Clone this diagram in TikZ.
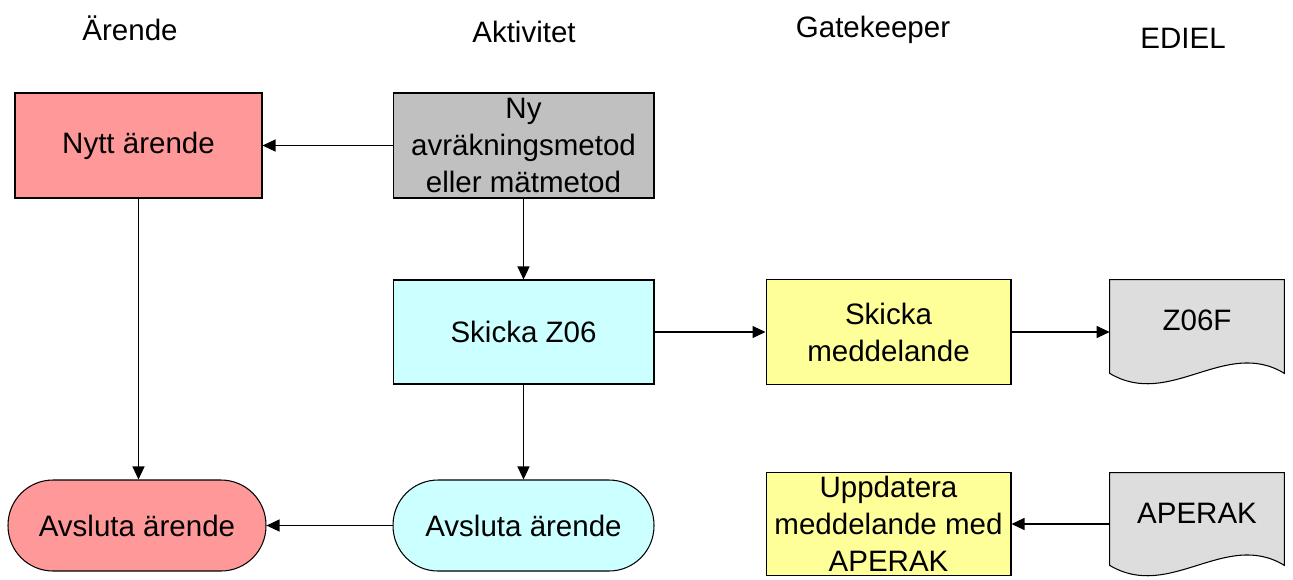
\documentclass[tikz,border=0pt]{standalone}
\usepackage{fontspec}
\setmainfont{Liberation Sans}
\usepackage{tikz}
\usetikzlibrary{arrows.meta,positioning}
\definecolor{Ink}{HTML}{000000}
\definecolor{CaseRed}{HTML}{FF9999}
\definecolor{ActGray}{HTML}{C0C0C0}
\definecolor{ActCyan}{HTML}{CCFFFF}
\definecolor{GateYellow}{HTML}{FFFF99}
\definecolor{DocGray}{HTML}{DDDDDD}
\tikzset{
  box/.style={draw=Ink,line width=0.6pt,align=center,text=Ink,inner sep=2pt,
    font=\fontsize{16.8}{21}\selectfont},
  boxred/.style={box,fill=CaseRed},
  boxgray/.style={box,fill=ActGray},
  boxcyan/.style={box,fill=ActCyan},
  boxyellow/.style={box,fill=GateYellow},
  terminal/.style={box,rounded corners=0.9cm},
  docnode/.style={align=center,text=Ink,inner sep=0pt,minimum width=3.48cm,
    font=\fontsize{16.8}{21}\selectfont},
  docshape/.style={draw=Ink,line width=0.6pt,fill=DocGray},
  lane/.style={text=Ink,font=\fontsize{16.8}{21}\selectfont},
  arrow/.style={-{Triangle[length=0.26cm,width=0.24cm]},line width=0.6pt,draw=Ink}
}
\begin{document}
\begin{tikzpicture}[x=0.02cm,y=-0.02cm]
\useasboundingbox (0,0) rectangle (1293,579);
% lane headings
\node[lane] (hcase) at (130,28) {Ärende};
\node[lane] (hact) at (524,32) {Aktivitet};
\node[lane] (hgate) at (873,30) {Gatekeeper};
\node[lane] (hediel) at (1183,38) {EDIEL};
% boxes
\node[boxred,minimum width=4.94cm,minimum height=2.1cm] (nytt) at (138.5,145.5) {Nytt ärende};
\node[boxgray,minimum width=5.22cm,minimum height=2.1cm] (ny) at (523.5,145.5) {Ny\\avräkningsmetod\\eller mätmetod};
\node[boxcyan,minimum width=5.22cm,minimum height=2.08cm] (z06) at (523.5,332) {Skicka Z06};
\node[boxyellow,minimum width=4.9cm,minimum height=2.1cm] (send) at (888.5,332) {Skicka\\meddelande};
\node[boxyellow,minimum width=4.9cm,minimum height=2.04cm] (uppd) at (888.5,524) {Uppdatera\\meddelande med\\APERAK};
\node[terminal,fill=CaseRed,minimum width=5.16cm,minimum height=1.82cm] (endcase) at (137,525.5) {Avsluta ärende};
\node[terminal,fill=ActCyan,minimum width=5.22cm,minimum height=1.82cm] (endact) at (523.5,525.5) {Avsluta ärende};
% documents
\node[docnode,minimum height=1.86cm] (z06f) at (1197,326.5) {};
\draw[docshape] (z06f.south west) -- (z06f.north west) -- (z06f.north east) -- (z06f.south east)
  .. controls +(-59,-36) and +(60,36) .. (z06f.south west) -- cycle;
\node[lane] at (1197,320) {Z06F};
\node[docnode,minimum height=1.84cm] (aperak) at (1197,519) {};
\draw[docshape] (aperak.south west) -- (aperak.north west) -- (aperak.north east) -- (aperak.south east)
  .. controls +(-59,-36) and +(60,36) .. (aperak.south west) -- cycle;
\node[lane] at (1197,513) {APERAK};
% connectors
\draw[arrow] (ny) -- (nytt);
\draw[arrow] (ny) -- (z06);
\draw[arrow] (z06.east) -- (z06.east -| send.west);
\draw[arrow] (send.east) -- (send.east -| z06f.west);
\draw[arrow] (z06) -- (endact);
\draw[arrow] (endact) -- (endcase);
\draw[arrow] (aperak.west |- uppd.east) -- (uppd.east);
\draw[arrow] (nytt.south) -- (nytt.south |- endcase.north);
\end{tikzpicture}
\end{document}
